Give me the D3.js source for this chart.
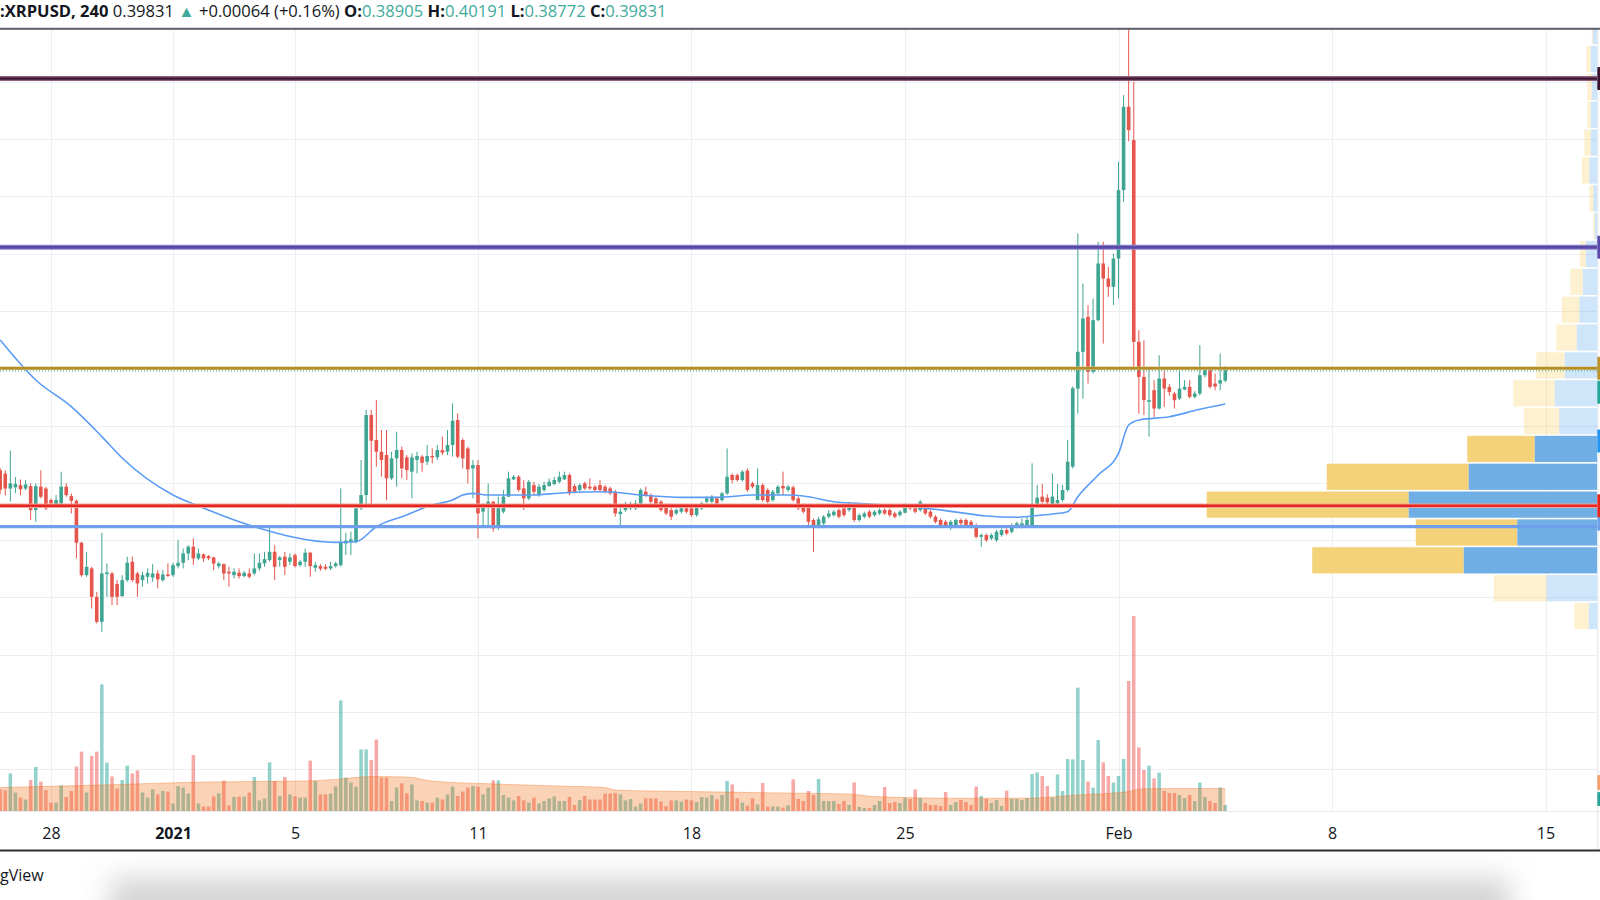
<!DOCTYPE html>
<html><head><meta charset="utf-8">
<script src="https://cdn.jsdelivr.net/npm/d3@7"></script>
<style>
html,body{margin:0;padding:0;background:#fff;}
svg{display:block;font-family:"Open Sans",sans-serif;}
</style></head>
<body><svg id="chart" width="1600" height="900"></svg>
<script>
// ---------------- DATA ----------------
const symbol = "XRPUSD", interval = "240";
const lastPrice = 0.39831, change = 0.00064, changePct = 0.16;
const headerOHLC = {O: 0.38905, H: 0.40191, L: 0.38772, C: 0.39831};
const firstBar = "2020-12-26T08:00:00Z";   // 4h bars
const opens = [
0.311,0.308,0.295,0.296,0.298,0.295,0.2971,0.2762,0.2966,0.295,
0.285,0.2806,0.282,0.2966,0.2884,0.2843,0.2477,0.2194,0.2253,0.2005,
0.1787,0.2203,0.2209,0.2116,0.2011,0.2151,0.2311,0.2209,0.2151,0.218,
0.2174,0.2209,0.2151,0.2200,0.2194,0.2273,0.2302,0.2384,0.2442,0.234,
0.2375,0.236,0.2349,0.2273,0.229,0.2224,0.2194,0.2215,0.2186,0.2209,
0.2209,0.2253,0.2297,0.2326,0.2398,0.2326,0.2355,0.2311,0.2369,0.2282,
0.2311,0.2390,0.2259,0.2273,0.2267,0.2253,0.2273,0.2282,0.2471,0.2486,
0.2486,0.2777,0.2893,0.3591,0.3373,0.3271,0.3242,0.3039,0.3213,0.3286,
0.3222,0.3097,0.3199,0.3228,0.3184,0.3234,0.3222,0.3286,0.3271,0.3330,
0.3548,0.3373,0.3300,0.3126,0.3155,0.2748,0.2797,0.2835,0.2617,0.2748,
0.2879,0.3030,0.3053,0.2951,0.2864,0.2980,0.2893,0.2937,0.2972,0.2989,
0.3009,0.3030,0.3068,0.2972,0.2937,0.2995,0.2966,0.2966,0.2980,0.2966,
0.2951,0.2922,0.2727,0.2762,0.2777,0.2777,0.2820,0.2922,0.2893,0.2864,
0.2835,0.2806,0.2762,0.2733,0.2748,0.2777,0.2777,0.2718,0.2777,0.2835,
0.2835,0.2864,0.2849,0.2908,0.3068,0.3068,0.3024,0.3106,0.2995,0.2849,
0.2980,0.2937,0.2849,0.2908,0.2972,0.2937,0.2960,0.2864,0.2806,0.2791,
0.2675,0.2617,0.2646,0.2704,0.2718,0.2762,0.2777,0.2762,0.2791,0.2675,
0.2704,0.2748,0.2718,0.2733,0.2762,0.2762,0.2733,0.2718,0.2739,0.2791,
0.2777,0.2762,0.2777,0.2748,0.2704,0.2675,0.2660,0.2617,0.2631,0.2675,
0.2675,0.2660,0.2631,0.2529,0.2544,0.2515,0.2500,0.2544,0.2588,0.2573,
0.2617,0.2617,0.2631,0.2617,0.2791,0.2879,0.2870,0.2806,0.2821,0.2850,
0.2937,0.3141,0.3822,0.4143,0.4448,0.3968,0.4419,0.4914,0.4783,0.4710,
0.4957,0.5554,0.6281,0.5990,0.4230,0.3924,0.3706,0.3808,0.3648,0.3910,
0.3837,0.3779,0.3735,0.3814,0.3837,0.3750,0.3779,0.3939,0.3983,0.3866,
0.3866,0.38905];
const highs = [
0.313,0.311,0.328,0.305,0.303,0.3024,0.2995,0.2995,0.311,0.2966,
0.2864,0.2893,0.3097,0.2995,0.2907,0.2855,0.2486,0.2398,0.2267,0.2049,
0.2564,0.2296,0.2224,0.2151,0.2194,0.2355,0.2355,0.2224,0.2224,0.2253,
0.229,0.2238,0.2238,0.2296,0.2302,0.250,0.2427,0.2456,0.2515,0.2427,
0.2384,0.237,0.2355,0.2311,0.2296,0.2267,0.2253,0.2253,0.2232,0.2253,
0.2384,0.2384,0.2398,0.2631,0.2456,0.2361,0.2398,0.2384,0.2384,0.2326,
0.2427,0.2398,0.2311,0.2290,0.2290,0.2311,0.2311,0.2951,0.2564,0.2573,
0.2806,0.3199,0.3635,0.3635,0.3722,0.3460,0.3460,0.3271,0.3446,0.3315,
0.3242,0.3257,0.3271,0.3242,0.3330,0.3300,0.3330,0.3402,0.3460,0.3693,
0.3606,0.3388,0.3315,0.3199,0.3199,0.2820,0.2995,0.2840,0.2879,0.2937,
0.3097,0.3068,0.3068,0.3024,0.3024,0.3009,0.2989,0.3009,0.3039,0.3053,
0.3097,0.3097,0.3082,0.2989,0.2995,0.3009,0.3039,0.2980,0.3024,0.2980,
0.2966,0.2937,0.2806,0.2835,0.2835,0.2849,0.2951,0.2966,0.2908,0.2879,
0.2849,0.2820,0.2791,0.2777,0.2791,0.2806,0.2791,0.2797,0.2835,0.2879,
0.2893,0.2879,0.2922,0.3300,0.3082,0.3082,0.3111,0.3126,0.3009,0.3126,
0.2995,0.2951,0.2937,0.2980,0.3097,0.2980,0.2975,0.2879,0.2820,0.2806,
0.2689,0.2704,0.2718,0.2762,0.2762,0.2777,0.2806,0.2835,0.2806,0.2733,
0.2748,0.2762,0.2762,0.2777,0.2777,0.2777,0.2748,0.2762,0.2820,0.2806,
0.2791,0.2849,0.2791,0.2762,0.2718,0.2689,0.2675,0.2675,0.2689,0.2689,
0.2689,0.2675,0.2646,0.2558,0.2558,0.2558,0.2588,0.2602,0.2602,0.2646,
0.2660,0.2689,0.2704,0.3170,0.2981,0.2990,0.2900,0.3082,0.2990,0.2981,
0.3374,0.3840,0.5176,0.4739,0.4550,0.4608,0.5103,0.5103,0.4885,0.5001,
0.5801,0.6383,0.7600,0.6500,0.4332,0.4244,0.3983,0.3895,0.4113,0.3997,
0.3860,0.3793,0.3983,0.3895,0.3895,0.3800,0.4201,0.4000,0.4000,0.3954,
0.4128,0.40191];
const lows = [
0.290,0.289,0.2835,0.291,0.289,0.2937,0.2675,0.266,0.2864,0.2762,
0.2806,0.2791,0.2806,0.2878,0.2733,0.234,0.218,0.218,0.1903,0.1773,
0.170,0.2005,0.1933,0.1933,0.2005,0.2136,0.2136,0.2005,0.2093,0.2122,
0.2136,0.2078,0.2136,0.218,0.218,0.2253,0.2253,0.2325,0.2282,0.2325,
0.2311,0.2325,0.2238,0.2253,0.2151,0.2093,0.2165,0.2165,0.2174,0.2165,
0.2194,0.2232,0.2267,0.2311,0.2151,0.2267,0.2195,0.2282,0.2261,0.2267,
0.2267,0.2180,0.2224,0.2232,0.2238,0.2238,0.2261,0.2267,0.2369,0.2369,
0.2471,0.2762,0.2777,0.2791,0.3140,0.3053,0.2849,0.3024,0.2966,0.3039,
0.3024,0.2864,0.3082,0.3097,0.3155,0.3170,0.3199,0.3242,0.3242,0.3228,
0.3213,0.3126,0.2995,0.2864,0.2515,0.2617,0.2617,0.2573,0.2588,0.2733,
0.2875,0.3024,0.2922,0.2762,0.2849,0.2893,0.2879,0.2922,0.2966,0.2980,
0.2995,0.3024,0.2893,0.2908,0.2922,0.2937,0.2937,0.2922,0.2922,0.2908,
0.2893,0.2704,0.2617,0.2748,0.2762,0.2762,0.2806,0.2879,0.2820,0.2777,
0.2748,0.2718,0.2675,0.2718,0.2733,0.2733,0.2704,0.2704,0.2762,0.2820,
0.2820,0.2806,0.2835,0.2893,0.2995,0.3009,0.3009,0.2922,0.2951,0.2849,
0.2835,0.2820,0.2835,0.2893,0.2893,0.2922,0.2835,0.2762,0.2733,0.2617,
0.2398,0.2602,0.2631,0.2689,0.2704,0.2689,0.2704,0.2748,0.2660,0.2660,
0.2689,0.2689,0.2704,0.2718,0.2718,0.2704,0.2689,0.2704,0.2733,0.2762,
0.2733,0.2748,0.2718,0.2689,0.2646,0.2617,0.2617,0.2588,0.2617,0.2631,
0.2617,0.2602,0.2515,0.2442,0.2485,0.2500,0.2485,0.2529,0.2544,0.2558,
0.2602,0.2602,0.2617,0.2617,0.2777,0.2820,0.2790,0.2790,0.2806,0.2835,
0.2922,0.3126,0.3604,0.3735,0.3866,0.3954,0.4410,0.4215,0.4623,0.4550,
0.4608,0.5452,0.5980,0.3997,0.3604,0.3590,0.3403,0.3575,0.3640,0.3662,
0.3760,0.3648,0.3721,0.3808,0.3735,0.3735,0.3764,0.3920,0.3822,0.3808,
0.3808,0.38772];
const closes = [
0.294,0.295,0.2995,0.299,0.2943,0.2986,0.2762,0.2971,0.2878,0.2776,
0.282,0.285,0.2966,0.2893,0.2843,0.2477,0.2194,0.2267,0.2005,0.1787,
0.2209,0.2218,0.2005,0.2005,0.2151,0.2302,0.2151,0.2122,0.2194,0.2215,
0.2209,0.2157,0.2200,0.2186,0.2282,0.2302,0.2384,0.2442,0.234,0.2384,
0.234,0.234,0.2296,0.2296,0.2209,0.2209,0.2224,0.2186,0.2215,0.218,
0.2253,0.2302,0.2334,0.2398,0.2267,0.2349,0.2267,0.2349,0.2273,0.2311,
0.2390,0.2273,0.2282,0.2250,0.2250,0.2273,0.2296,0.2486,0.2494,0.2506,
0.2777,0.2893,0.3591,0.3367,0.3271,0.3199,0.3039,0.3213,0.3286,0.3126,
0.3111,0.3222,0.3234,0.3175,0.3234,0.3222,0.3286,0.3263,0.3330,0.3542,
0.3228,0.3213,0.3117,0.3155,0.2733,0.2806,0.2835,0.2602,0.2777,0.2879,
0.3039,0.3053,0.2937,0.2864,0.3009,0.2922,0.2966,0.2980,0.3009,0.3024,
0.3053,0.3068,0.2908,0.2922,0.2980,0.2951,0.2951,0.2937,0.2937,0.2922,
0.2908,0.2733,0.2748,0.2806,0.2806,0.2820,0.2937,0.2893,0.2835,0.2791,
0.2762,0.2733,0.2704,0.2762,0.2777,0.2748,0.2718,0.2782,0.2820,0.2864,
0.2879,0.2820,0.2908,0.3053,0.3024,0.3024,0.3097,0.2937,0.2966,0.2980,
0.2849,0.2835,0.2922,0.2966,0.2951,0.2966,0.2849,0.2777,0.2748,0.2660,
0.2617,0.2681,0.2704,0.2733,0.2748,0.2704,0.2718,0.2806,0.2675,0.2718,
0.2733,0.2704,0.2748,0.2762,0.2733,0.2718,0.2704,0.2748,0.2806,0.2777,
0.2748,0.2835,0.2733,0.2704,0.2660,0.2631,0.2631,0.2660,0.2675,0.2646,
0.2631,0.2617,0.2529,0.2544,0.2500,0.2544,0.2573,0.2588,0.2558,0.2631,
0.2646,0.2646,0.2675,0.2791,0.2870,0.2835,0.2830,0.2879,0.2850,0.2937,
0.3184,0.3825,0.4143,0.4434,0.3968,0.4419,0.4914,0.4783,0.4710,0.4957,
0.5554,0.6281,0.6078,0.4230,0.3924,0.3721,0.3721,0.3648,0.3910,0.3822,
0.3793,0.3721,0.3822,0.3837,0.3750,0.3779,0.3939,0.3983,0.3837,0.3840,
0.3895,0.39831];
// volume (millions)
const volumes = [
10.8,10.3,18.8,9.2,6.7,5.7,15.5,22,14.7,10.5,
4.2,4.2,12.8,7,10,22.2,29.7,9.2,27.5,29.7,
63.3,24.2,17.3,11.2,15.5,22.7,18.8,20.3,9.2,6.7,
10.8,8.3,10,9.7,3.7,12.5,11.7,8.7,28,3.7,
2.3,2.2,7.3,8.8,15.2,2.8,7,7.2,7.2,9.2,
17,5.3,6.2,24.3,15,7.5,17,8.3,7.3,6.7,
6.7,25.2,15,8.3,8.3,8.7,12.3,55.3,16.7,14.2,
12.2,30.8,30.8,25.5,35.7,16.7,16.7,5,11.7,13.8,
8.8,13.3,5.3,5,4.2,4.2,6.7,5.8,8.3,12.2,
7.5,9.7,11.7,12.5,12.2,8.3,11.7,15.3,15.3,8,
6.7,5.3,7.5,5.3,4.2,6.7,3.8,5,6.3,7.3,
5,5,7,3,5.5,7.5,5.7,5.7,5.7,8.7,
8.7,9,8.3,5.3,6,2.2,3.7,6.3,6.3,6.3,
4.7,2.5,5.3,5.3,4.7,5.7,5.3,4.5,7,6.7,
8,5.8,8,15,13.3,6.3,4.2,2.7,6.3,3.3,
14,2.2,2.2,2.2,1.7,2.8,15.8,6,5,10,
8,16,5,5,5,3.5,5,3,14.3,2,
1.5,1.5,3,5,12,4,4.5,4,6.5,6,
10.8,6.5,4,3,3,2.5,9.5,3,4.5,5.5,
4.5,3,12.2,7.5,6,4,5.5,2.5,10.2,6,
6,5.5,6.5,18.5,19.3,17.5,12.5,6.8,18.3,10,
26,25.8,61.7,25.5,14.7,11.7,35.5,24.3,17.5,14.2,
17.5,26,65,97.5,31.8,20.5,22.7,16.3,19.2,10,
9,9,8,6.5,8,5,14.2,7,5,4,
11.8,3];
// price moving average, read at sample bars
const maBars = [0,7,14,20,24,34,39,50,66,70,74,79,85,89,91,93,96,104,111,119,126,134,141,148,155,158,164,171,179,186,194,200,203,207,210,212,216,220,222,224,230,236,241];
const maValues = [0.4246,0.3897,0.3664,0.3403,0.3216,0.2894,0.2798,0.2617,0.2480,0.2486,0.2617,0.2704,0.2806,0.2850,0.2893,0.2908,0.2893,0.2893,0.2913,0.2922,0.2893,0.2873,0.2873,0.2893,0.2893,0.2885,0.2835,0.2815,0.2791,0.2757,0.2710,0.2699,0.2710,0.2728,0.2748,0.2879,0.3068,0.3257,0.3504,0.3548,0.3577,0.3641,0.3688];
// volume moving average, read at sample bars
const volMaBars = [0,20,40,60,66,73,80,85,95,110,119,121,136,157,167,172,188,202,212,222,224,228,241];
const volMaValues = [11.7,13,14.5,15,15.8,17.2,17,15,13.7,12.5,11.7,10.5,9.7,8.9,8.5,7.2,6.4,6.4,8,9.7,10.9,11.2,11.2];
// volume profile (24 rows from profileLow, step profileStep)
const profileLow = 0.1716, profileStep = 0.0243;
const profileDown = [29,106,303,203,404,284,135,71,83,57,41,35,25,12,3,8,15,13,7,9,9,2,2,1];
const profileUp   = [17,101,267,160,377,257,125,76,85,65,41,36,29,23,5,8,16,13,13,11,13,9,4,3];
const valueAreaRows = [2,3,4,5,6];
// horizontal levels
const levelPrices = [0.6527, 0.5055, 0.40, 0.28, 0.2617];
// axes
const gridPrices = [0.05,0.10,0.15,0.20,0.25,0.30,0.35,0.40,0.45,0.50,0.55,0.60,0.65,0.70];
const tickDates = ["2020-12-28","2021-01-01","2021-01-05","2021-01-11","2021-01-18","2021-01-25","2021-02-01","2021-02-08","2021-02-15"];
const tickLabels = ["28","2021","5","11","18","25","Feb","8","15"];

// ---------------- LAYOUT ----------------
const plotTop = 29, plotBottom = 811, plotRight = 1597.3;
const ink = "#131722", teal = "#3fab9c";
const upCol = "#3fa592", downCol = "#e5554c";
const svg = d3.select("#chart");
const defs = svg.append("defs");
defs.append("clipPath").attr("id","plotClip").append("rect")
  .attr("x",0).attr("y",plotTop).attr("width",plotRight).attr("height",plotBottom-plotTop);
defs.append("filter").attr("id","blur").attr("x","-20%").attr("y","-100%").attr("width","140%").attr("height","300%")
  .append("feGaussianBlur").attr("stdDeviation",14);
defs.append("clipPath").attr("id","footClip").append("rect")
  .attr("x",0).attr("y",852).attr("width",1600).attr("height",48);

const xTime = d3.scaleUtc()
  .domain([new Date("2020-12-28T00:00:00Z"), new Date("2021-02-15T00:00:00Z")])
  .range([51, 1545.5]);
const bar0 = new Date(firstBar).getTime(), barMs = 4*3600*1000;
const xBar = i => xTime(new Date(bar0 + i*barMs));
const yPrice = d3.scaleLinear().domain([0, 0.7]).range([826.6, 24.4]);
const yVol = d3.scaleLinear().domain([0, 100]).range([plotBottom, plotBottom-200]);

const candles = closes.map((c,i)=>({i, o:opens[i], h:highs[i], l:lows[i], c, v:volumes[i]}));

const plot = svg.append("g").attr("clip-path","url(#plotClip)");

// grid
plot.append("g").selectAll("line").data(gridPrices).join("line")
  .attr("x1",0).attr("x2",plotRight)
  .attr("y1",d=>Math.round(yPrice(d))+0.5).attr("y2",d=>Math.round(yPrice(d))+0.5)
  .attr("stroke","#eceef2").attr("stroke-width",1);
plot.append("g").selectAll("line").data(tickDates).join("line")
  .attr("x1",d=>Math.round(xTime(new Date(d+"T00:00:00Z")))+0.5)
  .attr("x2",d=>Math.round(xTime(new Date(d+"T00:00:00Z")))+0.5)
  .attr("y1",plotTop).attr("y2",plotBottom)
  .attr("stroke","#eceef2").attr("stroke-width",1);

// volume bars
const bw = 3.5;
plot.append("g").selectAll("rect").data(candles).join("rect")
  .attr("x",d=>xBar(d.i)-bw/2).attr("width",bw)
  .attr("y",d=>yVol(d.v)).attr("height",d=>yVol(0)-yVol(d.v))
  .attr("fill",d=>d.c>=d.o ? "rgba(38,166,154,0.5)" : "rgba(239,83,80,0.5)");

// volume MA area
const volMa = volMaBars.map((b,k)=>({i:b, v:volMaValues[k]}));
plot.append("path").datum(volMa)
  .attr("d", d3.area().x(d=>xBar(d.i)).y0(yVol(0)).y1(d=>yVol(d.v)).curve(d3.curveMonotoneX))
  .attr("fill","rgba(240,105,10,0.3)");
plot.append("path").datum(volMa)
  .attr("d", d3.line().x(d=>xBar(d.i)).y(d=>yVol(d.v)).curve(d3.curveMonotoneX))
  .attr("fill","none").attr("stroke","rgba(240,110,30,0.35)").attr("stroke-width",1);

// volume profile
const profRows = profileDown.map((dn,k)=>({k, dn, up:profileUp[k], va: valueAreaRows.includes(k)}));
const xProf = d3.scaleLinear().domain([0, d3.max(profRows, r=>r.dn+r.up)]).range([0, 390.6]);
const pg = plot.append("g");
profRows.forEach(r=>{
  const yT = yPrice(profileLow + (r.k+1)*profileStep), yB = yPrice(profileLow + r.k*profileStep);
  const y = yT + 0.8, h = yB - yT - 1.6;
  pg.append("rect").attr("x", plotRight - xProf(r.up + r.dn)).attr("width", xProf(r.dn))
    .attr("y", y).attr("height", h)
    .attr("fill", r.va ? "#f3d27a" : "rgba(247,201,72,0.26)");
  pg.append("rect").attr("x", plotRight - xProf(r.up)).attr("width", xProf(r.up))
    .attr("y", y).attr("height", h)
    .attr("fill", r.va ? "#6fafe6" : "rgba(95,168,238,0.3)");
});

// candles
const cg = plot.append("g");
cg.selectAll("line").data(candles).join("line")
  .attr("x1",d=>xBar(d.i)).attr("x2",d=>xBar(d.i))
  .attr("y1",d=>yPrice(d.h)).attr("y2",d=>yPrice(d.l))
  .attr("stroke",d=>d.c>=d.o?upCol:downCol).attr("stroke-width",1);
cg.selectAll("rect").data(candles).join("rect")
  .attr("x",d=>xBar(d.i)-1.8).attr("width",3.6)
  .attr("y",d=>yPrice(Math.max(d.o,d.c)))
  .attr("height",d=>Math.max(1, Math.abs(yPrice(d.o)-yPrice(d.c))))
  .attr("fill",d=>d.c>=d.o?upCol:downCol);

// price MA
const ma = maBars.map((b,k)=>({i:b, v:maValues[k]}));
plot.append("path").datum(ma)
  .attr("d", d3.line().x(d=>xBar(d.i)).y(d=>yPrice(d.v)).curve(d3.curveMonotoneX))
  .attr("fill","none").attr("stroke","#5b9cf6").attr("stroke-width",1.6);

// horizontal levels
const levelStyles = [
  {halo:"#8f5f7a", hw:5, c:"#3a1430", w:2.4},
  {halo:"#9388d0", hw:5, c:"#5a4aa8", w:3},
  {halo:"#d8c084", hw:3.6, c:"#b38d25", w:2.4},
  {halo:"#f3a09b", hw:4.5, c:"#e3261f", w:2.4},
  {halo:null, c:"#6f9feb", w:3.2}
];
const lg = plot.append("g");
levelPrices.forEach((p,k)=>{
  const s = levelStyles[k], y = yPrice(p);
  if (s.halo) lg.append("line").attr("x1",0).attr("x2",plotRight).attr("y1",y).attr("y2",y)
      .attr("stroke",s.halo).attr("stroke-width",s.hw);
  lg.append("line").attr("x1",0).attr("x2",plotRight).attr("y1",y).attr("y2",y)
      .attr("stroke",s.c).attr("stroke-width",s.w);
});
// last price dotted line
const yLast = yPrice(closes[closes.length-1]);
lg.append("line").attr("x1",0).attr("x2",plotRight).attr("y1",yLast+0.8).attr("y2",yLast+0.8)
  .attr("stroke","#5fb3a6").attr("stroke-width",1.2).attr("stroke-dasharray","1,2");

// right edge line and price label chips
svg.append("line").attr("x1",plotRight+0.5).attr("x2",plotRight+0.5).attr("y1",plotTop).attr("y2",850)
  .attr("stroke","#e0e3eb");
const chipColors = ["#3a1430","#5a4aa8","#b8922a",null,null];
const chipG = svg.append("g");
function chip(yc, col, h){ chipG.append("rect").attr("x",plotRight).attr("width",3).attr("y",yc-(h||23)/2).attr("height",h||23).attr("fill",col).attr("rx",1); }
chip(yPrice(levelPrices[4])-3, "#6f9feb", 14);
chip(yPrice(levelPrices[3]), "#e3261f");
chip(yPrice(levelPrices[0]), chipColors[0]);
chip(yPrice(levelPrices[1]), chipColors[1]);
chip(yPrice(levelPrices[2]), chipColors[2]);
chip(yLast+22, "#26a69a");
chip(yPrice(maValues[maValues.length-1])+37, "#2196f3");
chip(yVol(volMaValues[volMaValues.length-1])-6, "#f5a06a", 15);
chip(yVol(volumes[volumes.length-1])-6, "#26a69a", 14);

// borders
svg.append("rect").attr("x",0).attr("y",27.8).attr("width",1600).attr("height",2).attr("fill","#5b5f6a");
svg.append("line").attr("x1",0).attr("x2",1600).attr("y1",plotBottom+0.5).attr("y2",plotBottom+0.5).attr("stroke","#e6e8ec");
svg.append("rect").attr("x",0).attr("y",849.5).attr("width",1600).attr("height",2).attr("fill","#2e2e33");

// time axis
const axis = d3.axisBottom(xTime)
  .tickValues(tickDates.map(d=>new Date(d+"T00:00:00Z")))
  .tickFormat((d,i)=>tickLabels[i]).tickSize(0).tickPadding(17);
const ag = svg.append("g").attr("transform",`translate(0,${plotBottom})`).call(axis);
ag.select(".domain").remove();
ag.selectAll("text").attr("font-size",16).attr("font-family","'Open Sans',sans-serif")
  .attr("fill",ink).attr("font-weight",(d,i)=>tickLabels[i]==="2021"?700:400);

// header
const fmt5 = d3.format(".5f");
const header = svg.append("text").attr("x",0).attr("y",16.7).attr("font-size",16)
  .style("white-space","pre").attr("fill",ink);
const segs = [
  {t:":"+symbol+", "+interval, w:700},
  {t:" "+fmt5(lastPrice)},
  {t:" \u25B2", c:teal},
  {t:" +"+fmt5(change)+" (+"+changePct.toFixed(2)+"%)"},
  {t:" O:", w:700},{t:fmt5(headerOHLC.O), c:teal},
  {t:" H:", w:700},{t:fmt5(headerOHLC.H), c:teal},
  {t:" L:", w:700},{t:fmt5(headerOHLC.L), c:teal},
  {t:" C:", w:700},{t:fmt5(headerOHLC.C), c:teal}
];
segs.forEach(s=>header.append("tspan").text(s.t).attr("font-weight",s.w||400).attr("fill",s.c||ink));
const hw = header.node().getComputedTextLength();
header.attr("transform",`scale(${667/hw},1)`);

// footer
svg.append("g").attr("clip-path","url(#footClip)").append("rect")
  .attr("x",110).attr("y",878).attr("width",1400).attr("height",70)
  .attr("fill","#d4d4d4").attr("filter","url(#blur)");
svg.append("text").attr("x",0).attr("y",881).attr("font-size",16).attr("fill",ink).text("gView");
</script></body></html>
